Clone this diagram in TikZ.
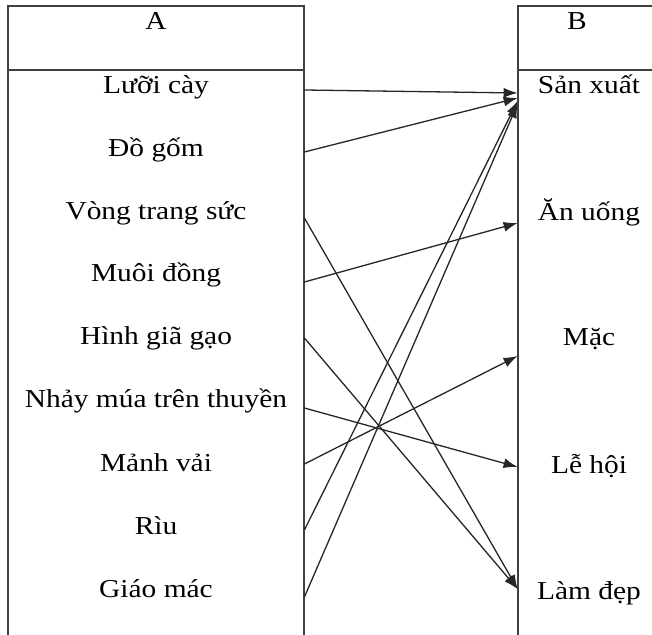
\documentclass[tikz,border=0pt]{standalone}
\usepackage{fontspec}
\setmainfont[FakeStretch=1.14]{Liberation Serif}
\usetikzlibrary{arrows.meta}

\begin{document}
\begin{tikzpicture}[x=0.5pt, y=-0.5pt, >={Latex[length=7pt,width=5pt]},
        every node/.style={font=\fontsize{12.9}{15}\selectfont},
        frame/.style={line width=0.7pt, black!75},
        head/.style={inner sep=0pt, anchor=base},
        lhs/.style={minimum width=148pt, inner sep=0pt, anchor=base},
        rhs/.style={minimum width=71pt, inner sep=0pt, anchor=base},
        link/.style={->, line width=0.65pt, black!85}]
    \useasboundingbox (0,0) rectangle (652,635);
    \clip (0,0) rectangle (652,635);

    % column frames
    \draw[frame] (8,645) -- (8,6) -- (304,6) -- (304,645);
    \draw[frame] (8,70) -- (304,70);
    \draw[frame] (518,645) -- (518,6) -- (665,6);
    \draw[frame] (518,70) -- (665,70);

    % headers
    \node[head] (A) at (156,30) {A};
    \node[head] (B) at (577,30) {B};

    % column A
    \node[lhs] (a1) at (156,94) {Lưỡi cày};
    \node[lhs] (a2) at (156,157) {Đồ gốm};
    \node[lhs] (a3) at (156,220) {Vòng trang sức};
    \node[lhs] (a4) at (156,282) {Muôi đồng};
    \node[lhs] (a5) at (156,345) {Hình giã gạo};
    \node[lhs] (a6) at (156,408) {Nhảy múa trên thuyền};
    \node[lhs] (a7) at (156,471) {Mảnh vải};
    \node[lhs] (a8) at (156,534) {Rìu};
    \node[lhs] (a9) at (156,597) {Giáo mác};

    % column B
    \node[rhs] (b1) at (589,94) {Sản xuất};
    \node[rhs] (b2) at (589,221) {Ăn uống};
    \node[rhs] (b3) at (589,346) {Mặc};
    \node[rhs] (b4) at (589,473) {Lễ hội};
    \node[rhs] (b5) at (589,599) {Làm đẹp};

    % arrows
    \draw[link] ([yshift=2pt]a1.base east) -- ([yshift=0.5pt]b1.base west);
    \draw[link] ([yshift=2.5pt]a2.base east) -- ([yshift=-2pt]b1.base west);
    \draw[link] ([yshift=1pt]a3.base east) -- ([yshift=5pt]b5.base west);
    \draw[link] (a4.base east) -- ([yshift=-1pt]b2.base west);
    \draw[link] ([yshift=3.5pt]a5.base east) -- ([yshift=5pt]b5.base west);
    \draw[link] (a6.base east) -- ([yshift=3pt]b4.base west);
    \draw[link] ([yshift=3.5pt]a7.base east) -- ([yshift=-5pt]b3.base west);
    \draw[link] ([yshift=2pt]a8.base east) -- ([yshift=-3.5pt]b1.base west);
    \draw[link] (a9.base east) -- ([yshift=-5pt]b1.base west);
\end{tikzpicture}
\end{document}
